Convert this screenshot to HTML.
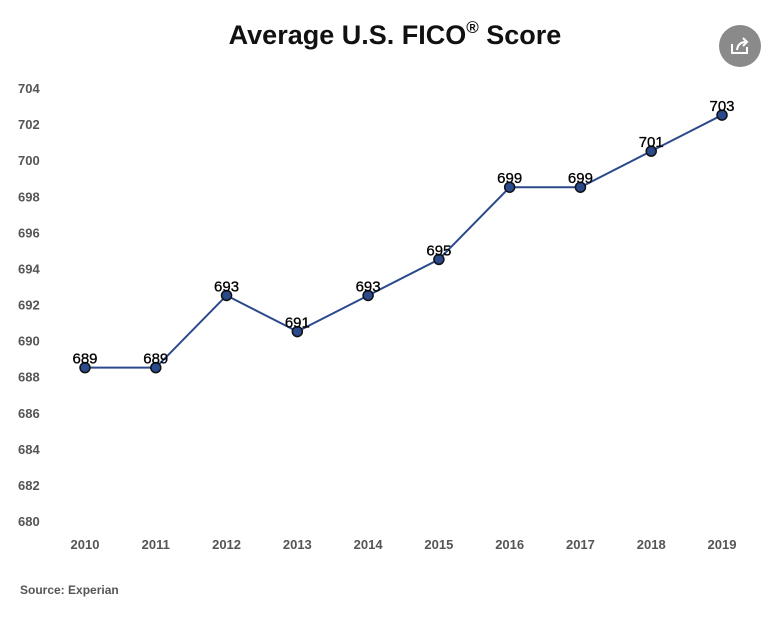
<!DOCTYPE html>
<html><head><meta charset="utf-8"><style>
body{margin:0;background:#fff;width:768px;height:612px;overflow:hidden;font-family:"Liberation Sans",sans-serif}
</style></head><body>
<svg width="768" height="612">
<text x="395" y="44" text-anchor="middle" font-size="27" font-weight="bold" fill="#111">Average U.S. FICO<tspan font-size="17" dy="-11">®</tspan><tspan dy="11"> Score</tspan></text>
<g>
<circle cx="740" cy="46" r="21" fill="#8a8a8a"/>
<path d="M732 44 v9 h15 v-6" stroke="#fff" stroke-width="2" fill="none"/>
<path d="M737 50 q1-8 9-8 M743 38 l4 4 -4 4" stroke="#fff" stroke-width="2" fill="none"/>
</g>
<g id="yaxis"></g><g id="xaxis"></g><g id="plot"></g>
<text x="20" y="594" font-size="12" font-weight="bold" fill="#555">Source: Experian</text>
</svg>
<script>
const years=["2010","2011","2012","2013","2014","2015","2016","2017","2018","2019"];
const scores=[688.5,688.5,692.5,690.5,692.5,694.5,698.5,698.5,700.5,702.5];
const yTicks=[680,682,684,686,688,690,692,694,696,698,700,702,704];
const ns="http://www.w3.org/2000/svg";
const y=v=>521-(v-680)*(521-88)/24;
const x=i=>85+i*(722-85)/9;
function mk(t,a,p){const e=document.createElementNS(ns,t);for(const k in a)e.setAttribute(k,a[k]);p.appendChild(e);return e;}
const ya=document.getElementById('yaxis'),xa=document.getElementById('xaxis'),pl=document.getElementById('plot');
yTicks.forEach(t=>{const e=mk('text',{x:18,y:y(t)+5,'font-size':13,'font-weight':'bold',fill:'#555'},ya);e.textContent=t;

});
years.forEach((yr,i)=>{const e=mk('text',{x:x(i),y:549,'text-anchor':'middle','font-size':13,'font-weight':'bold',fill:'#555'},xa);e.textContent=yr;

});
const ln=mk('polyline',{points:scores.map((v,i)=>x(i)+','+y(v)).join(' '),fill:'none',stroke:'#2a4a8c','stroke-width':2},pl);


scores.forEach((v,i)=>{const c=mk('circle',{cx:x(i),cy:y(v),r:5,fill:'#2a4a8c',stroke:'#111','stroke-width':1.5},pl);


const t=mk('text',{x:x(i),y:y(v)-4,'text-anchor':'middle','font-size':15,'font-weight':'500',fill:'#000',stroke:'#000','stroke-width':0.3},pl);t.textContent=Math.round(v);

});
</script>
</body></html>
